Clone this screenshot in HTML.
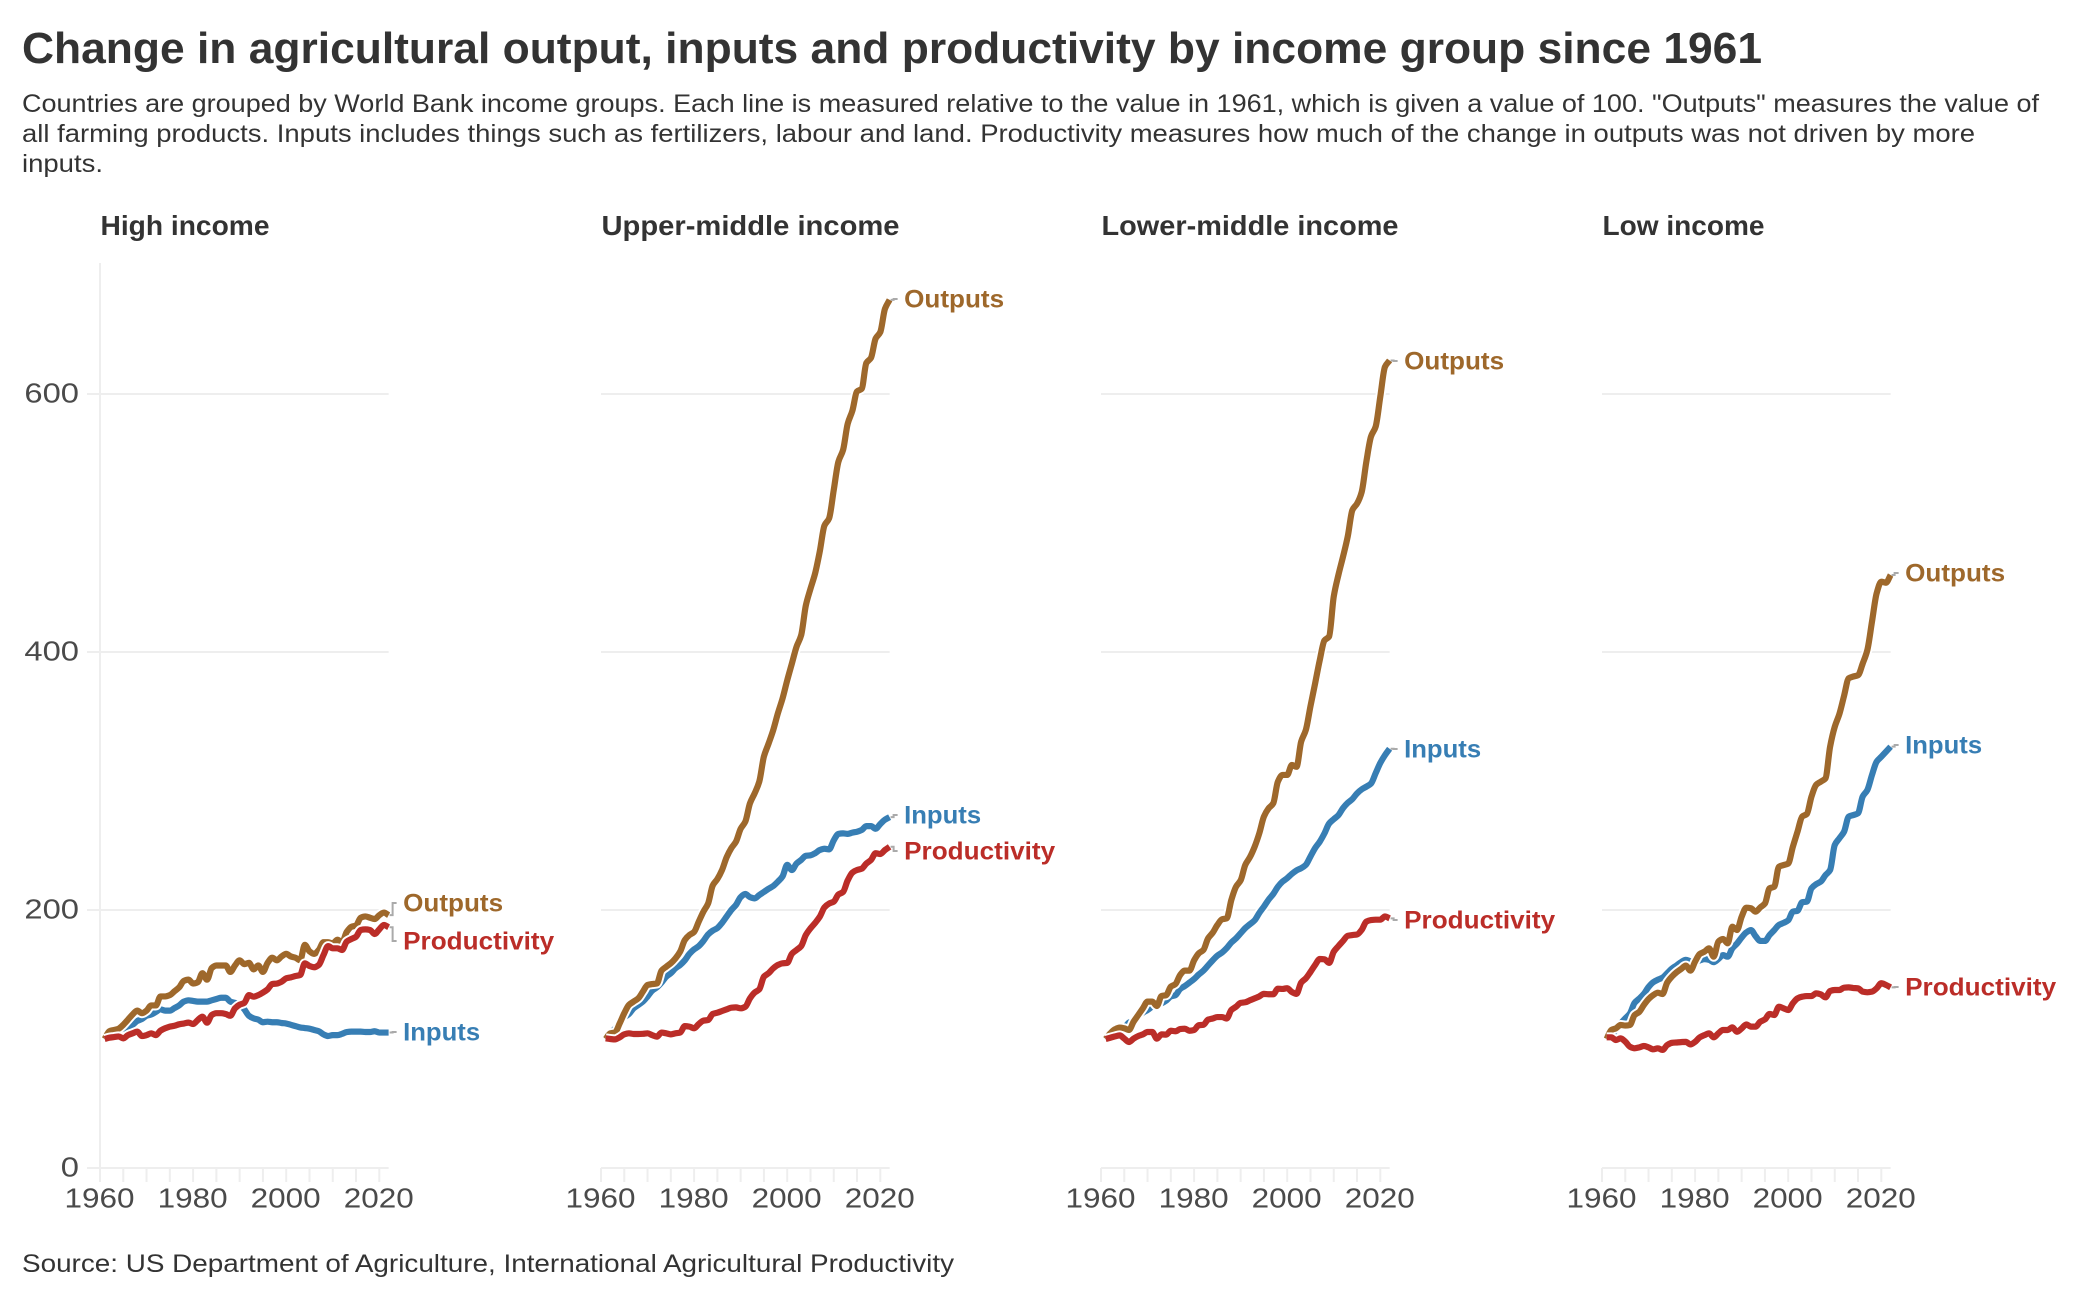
<!DOCTYPE html>
<html lang="en">
<head>
<meta charset="utf-8">
<title>Change in agricultural output, inputs and productivity by income group since 1961</title>
<style>
html,body{margin:0;padding:0;background:#fff;}
svg{display:block;}
text{font-family:"Liberation Sans",sans-serif;}
</style>
</head>
<body>
<svg id="chart" xmlns="http://www.w3.org/2000/svg" width="2080" height="1300" viewBox="0 0 2080 1300">
  <rect x="0" y="0" width="2080" height="1300" fill="#fff"/>
  <text x="22" y="63" font-size="44" font-weight="700" fill="#333" textLength="1740" lengthAdjust="spacingAndGlyphs">Change in agricultural output, inputs and productivity by income group since 1961</text>
  <g font-size="25" fill="#333">
    <text x="22" y="112" textLength="2017" lengthAdjust="spacingAndGlyphs">Countries are grouped by World Bank income groups. Each line is measured relative to the value in 1961, which is given a value of 100. "Outputs" measures the value of</text>
    <text x="22" y="142" textLength="1953" lengthAdjust="spacingAndGlyphs">all farming products. Inputs includes things such as fertilizers, labour and land. Productivity measures how much of the change in outputs was not driven by more</text>
    <text x="22" y="172" textLength="81" lengthAdjust="spacingAndGlyphs">inputs.</text>
  </g>
  <g id="panels"></g>
  <text x="22" y="1272" font-size="25" fill="#333" textLength="932" lengthAdjust="spacingAndGlyphs">Source: US Department of Agriculture, International Agricultural Productivity</text>
</svg>
<script>
const firstYear = 1961;
const yTicks = [0, 200, 400, 600];
const xLabelYears = [1960, 1980, 2000, 2020];
const xTickYears = [1960, 1965, 1970, 1975, 1980, 1985, 1990, 1995, 2000, 2005, 2010, 2015, 2020];
const panelNames = ["High income", "Upper-middle income", "Lower-middle income", "Low income"];
const seriesNames = ["Inputs", "Outputs", "Productivity"];

const highInputs = [100,103,105,107,108,109,111,114,115.5,118,
  119,121,123,122,122,124,126,129,130,129.5,
  129,129,129,130,131,132,132,129,128,127,
  123,118,116,115,113,113.4,113,113,112.4,112,
  111,110,109,108.5,108,107,106,103.6,102.3,103,
  103,104,105.4,105.7,105.7,105.7,105.4,105.4,106,105,
  105,105];
const highOutputs = [100,106,107,108,111,115,119,122,120,122,
  126,126,133,133,134,137,140,145,146,143,
  144,151,146,155,157,157,157,152,157,161,
  158,159,154,157,152,159,163,161,164,166,
  164,163,161,173,168,166,169,175,175,174,
  177,175,183,187,188,194,195,194,193,196,
  198,196];
const highProductivity = [100,101,101.5,102,100.5,103,104.4,105.7,102.3,103,
  104.4,103,106.5,108.3,109.6,110.3,111.4,112,112.7,111.6,
  114.7,117.3,112.7,118.6,120,120,119.4,118,123.8,126.6,
  128,134,132.8,134,136,138.5,142.6,143,144.4,147,
  147.8,148.8,149.6,158.6,156.6,155.6,157.4,165,172,170.3,
  170.3,169,175.5,177.5,179.3,184.5,185,184.5,181.4,185,
  188.4,186.6];

const upperInputs = [100,104.4,108,112.7,116.8,119.4,123.8,126.4,129,133,
  137.5,140,143.7,148.3,151,154.8,157.4,161,166,169.5,
  172,176,181,184,186,190,195,200,204,210,
  212.4,210,209,211.6,214,216.5,218.6,222,226,235,
  231,236,238.8,242,242.4,244,246.5,247.5,247,254,
  259,259.4,259,260,260.7,262,265,265,263,266.7,
  270,272];
const upperOutputs = [100,104.4,105,112,120,126.4,129,131.5,136.7,141.9,
  142.6,143,153,156,158.7,162.5,167.7,176.7,180.6,183,
  191,198.7,205,219,224,231,241,248,253,263,
  268.5,282.7,290.4,299.5,319,329,339.5,352.5,364,378,
  391,404,413,436,449,461,478,498,503.6,525.6,
  547.5,556.6,577,587,602,604,624,628,643,648,
  666,673];
const upperProductivity = [100.5,100,99.7,101.3,103.6,104.4,103.9,103.9,104,104.4,
  103,101.8,105,104.4,103.6,104.4,105,110,109.6,108.3,
  111.6,114.2,114.7,119.4,120.4,121.7,123,124.3,124.5,123.8,
  125,131.5,136,138.5,148.3,151,154.8,157.4,158.7,159,
  166,169,172,180.6,185.8,190,194.8,202,205,206.5,
  212,214,223,229,231,232,236,238.8,244,243.4,
  246.5,249];

const lowerInputs = [100,104.4,107,108.3,109,112.7,114,117.3,120.4,122.5,
  125,126.4,127.7,129.8,133,134,138.8,141,143.7,146.5,
  150,153,157,161,164.6,167,170.4,174.8,178,182,
  186,189,192,197.7,202.6,208,212.4,218,222,224.7,
  228,230.7,232.4,235,241.5,248,253,259.4,267,270.4,
  273.5,279,283,286,290.4,293.5,295.6,298,306,314,
  320,325];
const lowerOutputs = [100,104.4,107.5,108.8,108.3,107,113.4,118.6,123.8,129,
  129,125.6,133.3,134,140.6,142.6,149.6,153,153,161,
  166.4,169,178,182.4,188.4,192.8,193.5,207.8,218,223,
  235,241,249,259.4,272.4,278.8,282.7,299.5,304.7,304.7,
  312.4,311,330.5,339.5,358,375.7,393.8,409,412,443,
  459.7,474,489.4,510,515,524,547.5,567,574.7,598,
  621,626];
const lowerProductivity = [100,101,102,102.8,100.3,97.7,100.3,102.3,103.6,105.4,
  105.4,100.3,103.6,103.4,106.4,106,107.7,108,106.4,107,
  110.7,111,115,115.9,117,117,115.9,122.5,125,128,
  128.5,130,131.5,133,135,134.7,134.7,139,138.8,139.4,
  136.4,135,143.7,147,152,157.4,162,161.8,159,167.7,
  172,176,180,180.6,181,184.6,191,192.2,192.5,192.5,
  195,193.5];

const lowInputs = [100,103,107,112,116,119.8,128,131.3,135,140.3,
  144,146,147.5,151,154.5,157,159.6,161.4,160.3,159.6,
  160.9,161.9,161.4,159.6,162,165,163.8,170.3,174,178.7,
  182.6,184.4,179.7,176,176,180.6,184.4,188.4,190,192,
  198.7,199.4,206,206.5,216.8,220,222,227,231,250.4,
  255.6,260.7,272.4,273.6,275,288,293,304.7,315,318.8,
  322.7,326.6];
const lowOutputs = [100,107,108.3,110.9,110.4,110.9,118.6,121,126.4,131,
  134,135.9,134.9,143.7,148.3,151.7,154.3,156.9,153,160,
  165.9,167.7,170.3,163.8,175.5,177.5,174.2,187,184.5,194.8,
  201.8,201.3,198.7,202,205,216.8,218,233.5,234.8,236,
  249,260.7,272.4,274.4,287.9,297,299.5,302,326.6,342,
  352,366,379.6,381,382,391,401.5,423.5,445.5,454.5,
  453.7,459.7];
const lowProductivity = [101.3,101.3,99.2,100.5,98,94,92.8,93.5,94.6,93.5,
  92,92.8,91.5,95.3,97,97.3,97.6,97.8,95.8,97.8,
  101.3,103,104.4,101.3,104.4,107,107,109,105.6,108.2,
  111.3,109.6,109.6,113.4,115.2,119.4,118.6,125,123.8,122.5,
  127.7,131.5,132.8,133.3,133.3,135.4,134.6,132.3,137.2,138,
  138,139.8,140,139.5,139.3,136.7,136.2,136.7,139.3,143.2,
  141.9,140];

const panelSeries = [
  [highInputs, highOutputs, highProductivity],
  [upperInputs, upperOutputs, upperProductivity],
  [lowerInputs, lowerOutputs, lowerProductivity],
  [lowInputs, lowOutputs, lowProductivity]
];

/* layout only */
const panelLeft = [100, 601, 1101, 1602];
const titleWidths = [169, 298, 297, 162];
const labelBaselines = [
  [1040, 911, 949],
  [823, 307, 859],
  [757, 369, 928],
  [753, 581, 995]
];
const colors = ["#377eb4", "#9e682b", "#bb2d28"];
const labelWidths = [77, 100, 151];
const ns = "http://www.w3.org/2000/svg";
const root = document.getElementById("panels");

function yScale(v) { return 1168 - 1.29 * v; }
function xScale(year, left) { return left + 4.655 * (year - 1960); }
function make(tag, parent, attrs, text) {
  const el = document.createElementNS(ns, tag);
  for (const k in attrs) el.setAttribute(k, attrs[k]);
  if (text !== undefined) el.textContent = text;
  parent.appendChild(el);
  return el;
}
function slug(s) { return s.toLowerCase().replace(/[^a-z]+/g, "-"); }

/* monotone-x curve through the projected points */
function curvePath(pts) {
  const n = pts.length;
  const slopes = [];
  for (let i = 0; i < n - 1; i++) slopes.push((pts[i + 1][1] - pts[i][1]) / (pts[i + 1][0] - pts[i][0]));
  const tang = [slopes[0]];
  for (let i = 1; i < n - 1; i++) {
    tang.push(slopes[i - 1] * slopes[i] <= 0 ? 0 : 2 * slopes[i - 1] * slopes[i] / (slopes[i - 1] + slopes[i]));
  }
  tang.push(slopes[n - 2]);
  let d = "M" + pts[0][0].toFixed(2) + " " + pts[0][1].toFixed(2);
  for (let i = 0; i < n - 1; i++) {
    const h = (pts[i + 1][0] - pts[i][0]) / 3;
    d += "C" + (pts[i][0] + h).toFixed(2) + " " + (pts[i][1] + h * tang[i]).toFixed(2) + " " +
         (pts[i + 1][0] - h).toFixed(2) + " " + (pts[i + 1][1] - h * tang[i + 1]).toFixed(2) + " " +
         pts[i + 1][0].toFixed(2) + " " + pts[i + 1][1].toFixed(2);
  }
  return d;
}

panelNames.forEach(function (name, p) {
  const left = panelLeft[p];
  const right = xScale(2022, left);
  const key = slug(name);
  const g = make("g", root, {});
  
  

  const title = make("text", g, { x: left + 0.5, y: 235, "font-size": 28, "font-weight": 700, fill: "#333", textLength: titleWidths[p], lengthAdjust: "spacingAndGlyphs" }, name);
  
  

  yTicks.forEach(function (t) {
    const grid = make("line", g, { x1: p === 0 ? 87 : left, x2: right, y1: yScale(t), y2: yScale(t), stroke: "#eeeeee", "stroke-width": 2 });
    
    
    if (p === 0) {
      const s = String(t);
      const lab = make("text", g, { x: 79, y: yScale(t) + 8.5, "font-size": 28, fill: "#4a4a4a", "text-anchor": "end", textLength: s.length * 18.2, lengthAdjust: "spacingAndGlyphs" }, s);
      
      
    }
  });

  if (p === 0) {
    const axis = make("line", g, { x1: left, x2: left, y1: 263, y2: 1168, stroke: "#eeeeee", "stroke-width": 2 });
    
    
  }

  xTickYears.forEach(function (yr) {
    const tick = make("line", g, { x1: xScale(yr, left), x2: xScale(yr, left), y1: 1168, y2: 1182, stroke: "#eeeeee", "stroke-width": 2 });
    
    
  });
  xLabelYears.forEach(function (yr) {
    const lab = make("text", g, { x: xScale(yr, left) - 0.5, y: 1207.5, "font-size": 28, fill: "#4a4a4a", "text-anchor": "middle", textLength: 70, lengthAdjust: "spacingAndGlyphs" }, String(yr));
    
    
  });

  panelSeries[p].forEach(function (values, s) {
    const seriesKey = slug(seriesNames[s]);
    const pts = values.map(function (v, i) {
      return [xScale(firstYear + i, left), yScale(v)];
    });
    const d = curvePath(pts);
    const halo = make("path", g, { d: d, fill: "none", stroke: "#fff", "stroke-width": 10, "stroke-linejoin": "round" });
    
    
    const line = make("path", g, { d: d, fill: "none", stroke: colors[s], "stroke-width": 6.2, "stroke-linejoin": "round" });
    
    
  });

  panelSeries[p].forEach(function (values, s) {
    const seriesKey = slug(seriesNames[s]);
    const endY = yScale(values[values.length - 1]);
    const base = labelBaselines[p][s];
    const leadY = base - 8;
    const leader = make("path", g, { d: "M" + (right + 1) + " " + endY + "H" + (right + 4) + "V" + leadY + "H" + (right + 8), fill: "none", stroke: "#aaaaaa", "stroke-width": 2 });
    
    
    const lab = make("text", g, { x: right + 14.5, y: base + 0.5, "font-size": 25, "font-weight": 700, fill: colors[s], textLength: labelWidths[s], lengthAdjust: "spacingAndGlyphs" }, seriesNames[s]);
    
    
  });
});
</script>
</body>
</html>
